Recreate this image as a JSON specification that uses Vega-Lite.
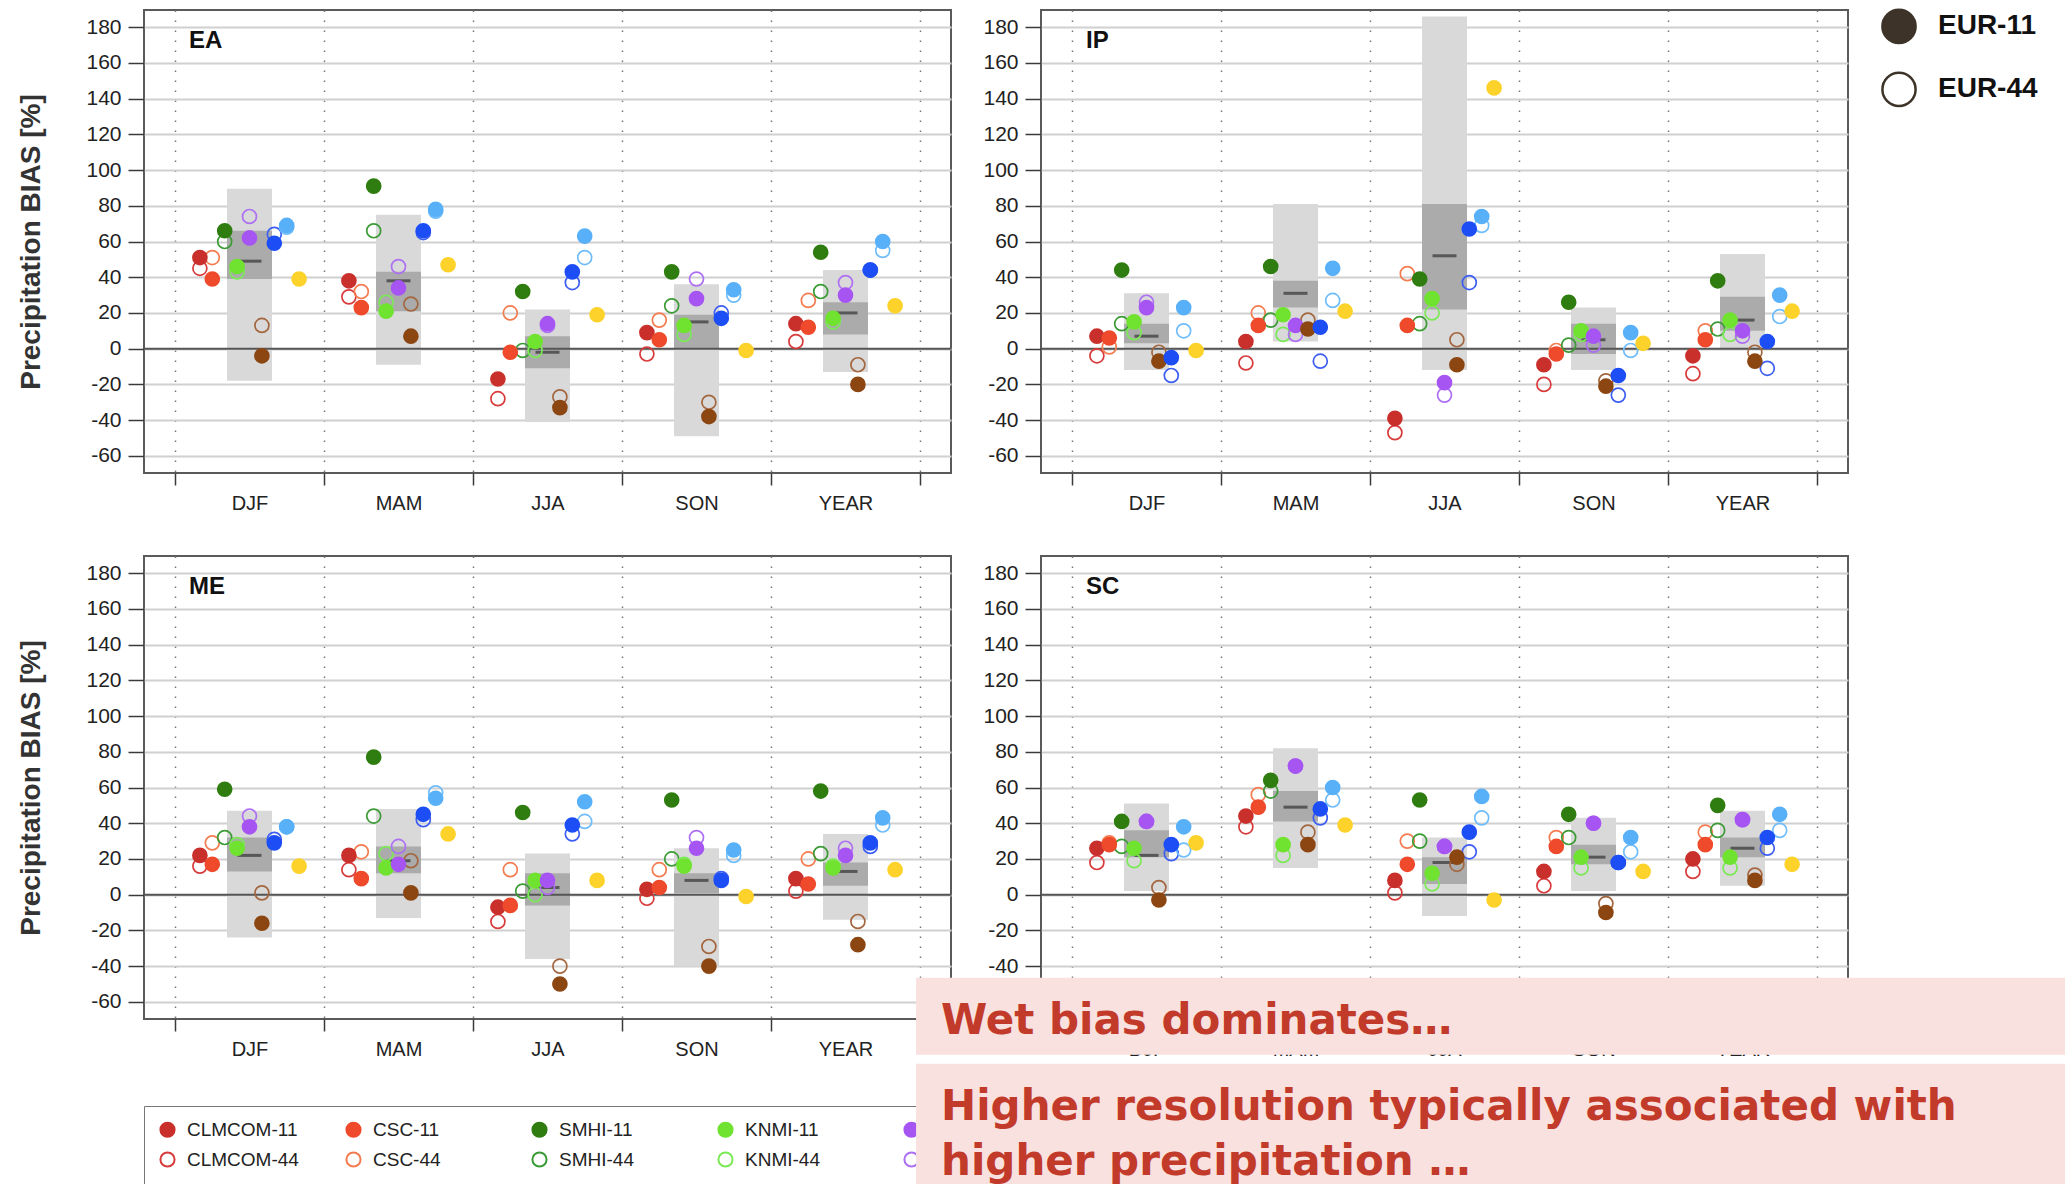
{
"$schema": "https://vega.github.io/schema/vega-lite/v6.json",
"padding": {"left": 16, "top": 7, "right": 0, "bottom": 0},
"bounds": "flush",
"columns": 2,
"spacing": {"row": 83, "column": 90},
"resolve": {"scale": {"fill": "independent", "stroke": "independent", "color": "independent"}, "legend": {"fill": "independent", "stroke": "independent", "color": "independent"}},
"datasets": {
"boxes": [
{"p":"EA","s":"DJF","lo":-18,"hi":89.5,"qlo":39,"qhi":66,"med":49},
{"p":"EA","s":"MAM","lo":-9,"hi":75,"qlo":21,"qhi":43,"med":38},
{"p":"EA","s":"JJA","lo":-41,"hi":22,"qlo":-11,"qhi":7,"med":-2},
{"p":"EA","s":"SON","lo":-49,"hi":36,"qlo":0,"qhi":19,"med":15},
{"p":"EA","s":"YEAR","lo":-13,"hi":44,"qlo":8,"qhi":26,"med":20},
{"p":"IP","s":"DJF","lo":-12,"hi":31,"qlo":3,"qhi":14,"med":7},
{"p":"IP","s":"MAM","lo":4,"hi":81,"qlo":23,"qhi":38,"med":31},
{"p":"IP","s":"JJA","lo":-12,"hi":186,"qlo":22,"qhi":81,"med":52},
{"p":"IP","s":"SON","lo":-12,"hi":23,"qlo":-3,"qhi":14,"med":5},
{"p":"IP","s":"YEAR","lo":0,"hi":53,"qlo":10,"qhi":29,"med":16},
{"p":"ME","s":"DJF","lo":-24,"hi":47,"qlo":13,"qhi":32,"med":22},
{"p":"ME","s":"MAM","lo":-13,"hi":48,"qlo":12,"qhi":27,"med":19},
{"p":"ME","s":"JJA","lo":-36,"hi":23,"qlo":-6,"qhi":12,"med":4},
{"p":"ME","s":"SON","lo":-40,"hi":26,"qlo":1,"qhi":12,"med":8},
{"p":"ME","s":"YEAR","lo":-14,"hi":34,"qlo":5,"qhi":18,"med":13},
{"p":"SC","s":"DJF","lo":2,"hi":51,"qlo":21,"qhi":36,"med":22},
{"p":"SC","s":"MAM","lo":15,"hi":82,"qlo":41,"qhi":58,"med":49},
{"p":"SC","s":"JJA","lo":-12,"hi":32,"qlo":6,"qhi":21,"med":18},
{"p":"SC","s":"SON","lo":2,"hi":43,"qlo":17,"qhi":28,"med":21},
{"p":"SC","s":"YEAR","lo":5,"hi":47,"qlo":21,"qhi":32,"med":26}
],
"pts": [
{"p":"EA","s":"DJF","m":"CLMCOM","k":"CLMCOM-44","v":45},
{"p":"EA","s":"DJF","m":"CSC","k":"CSC-44","v":51},
{"p":"EA","s":"DJF","m":"SMHI","k":"SMHI-44","v":60},
{"p":"EA","s":"DJF","m":"KNMI","k":"KNMI-44","v":43},
{"p":"EA","s":"DJF","m":"IPSL","k":"IPSL-44","v":74},
{"p":"EA","s":"DJF","m":"DMI","k":"DMI-44","v":13},
{"p":"EA","s":"DJF","m":"UHOH","k":"UHOH-44","v":64},
{"p":"EA","s":"DJF","m":"CNRM","k":"CNRM-44","v":68},
{"p":"EA","s":"MAM","m":"CLMCOM","k":"CLMCOM-44","v":29},
{"p":"EA","s":"MAM","m":"CSC","k":"CSC-44","v":32},
{"p":"EA","s":"MAM","m":"SMHI","k":"SMHI-44","v":66},
{"p":"EA","s":"MAM","m":"KNMI","k":"KNMI-44","v":26},
{"p":"EA","s":"MAM","m":"IPSL","k":"IPSL-44","v":46},
{"p":"EA","s":"MAM","m":"DMI","k":"DMI-44","v":25},
{"p":"EA","s":"MAM","m":"UHOH","k":"UHOH-44","v":65},
{"p":"EA","s":"MAM","m":"CNRM","k":"CNRM-44","v":77},
{"p":"EA","s":"JJA","m":"CLMCOM","k":"CLMCOM-44","v":-28},
{"p":"EA","s":"JJA","m":"CSC","k":"CSC-44","v":20},
{"p":"EA","s":"JJA","m":"SMHI","k":"SMHI-44","v":-1},
{"p":"EA","s":"JJA","m":"KNMI","k":"KNMI-44","v":-1},
{"p":"EA","s":"JJA","m":"IPSL","k":"IPSL-44","v":13},
{"p":"EA","s":"JJA","m":"DMI","k":"DMI-44","v":-27},
{"p":"EA","s":"JJA","m":"UHOH","k":"UHOH-44","v":37},
{"p":"EA","s":"JJA","m":"CNRM","k":"CNRM-44","v":51},
{"p":"EA","s":"SON","m":"CLMCOM","k":"CLMCOM-44","v":-3},
{"p":"EA","s":"SON","m":"CSC","k":"CSC-44","v":16},
{"p":"EA","s":"SON","m":"SMHI","k":"SMHI-44","v":24},
{"p":"EA","s":"SON","m":"KNMI","k":"KNMI-44","v":8},
{"p":"EA","s":"SON","m":"IPSL","k":"IPSL-44","v":39},
{"p":"EA","s":"SON","m":"DMI","k":"DMI-44","v":-30},
{"p":"EA","s":"SON","m":"UHOH","k":"UHOH-44","v":20},
{"p":"EA","s":"SON","m":"CNRM","k":"CNRM-44","v":30},
{"p":"EA","s":"YEAR","m":"CLMCOM","k":"CLMCOM-44","v":4},
{"p":"EA","s":"YEAR","m":"CSC","k":"CSC-44","v":27},
{"p":"EA","s":"YEAR","m":"SMHI","k":"SMHI-44","v":32},
{"p":"EA","s":"YEAR","m":"KNMI","k":"KNMI-44","v":15},
{"p":"EA","s":"YEAR","m":"IPSL","k":"IPSL-44","v":37},
{"p":"EA","s":"YEAR","m":"DMI","k":"DMI-44","v":-9},
{"p":"EA","s":"YEAR","m":"UHOH","k":"UHOH-44","v":44},
{"p":"EA","s":"YEAR","m":"CNRM","k":"CNRM-44","v":55},
{"p":"IP","s":"DJF","m":"CLMCOM","k":"CLMCOM-44","v":-4},
{"p":"IP","s":"DJF","m":"CSC","k":"CSC-44","v":1},
{"p":"IP","s":"DJF","m":"SMHI","k":"SMHI-44","v":14},
{"p":"IP","s":"DJF","m":"KNMI","k":"KNMI-44","v":9},
{"p":"IP","s":"DJF","m":"IPSL","k":"IPSL-44","v":26},
{"p":"IP","s":"DJF","m":"DMI","k":"DMI-44","v":-2},
{"p":"IP","s":"DJF","m":"UHOH","k":"UHOH-44","v":-15},
{"p":"IP","s":"DJF","m":"CNRM","k":"CNRM-44","v":10},
{"p":"IP","s":"MAM","m":"CLMCOM","k":"CLMCOM-44","v":-8},
{"p":"IP","s":"MAM","m":"CSC","k":"CSC-44","v":20},
{"p":"IP","s":"MAM","m":"SMHI","k":"SMHI-44","v":16},
{"p":"IP","s":"MAM","m":"KNMI","k":"KNMI-44","v":8},
{"p":"IP","s":"MAM","m":"IPSL","k":"IPSL-44","v":8},
{"p":"IP","s":"MAM","m":"DMI","k":"DMI-44","v":16},
{"p":"IP","s":"MAM","m":"UHOH","k":"UHOH-44","v":-7},
{"p":"IP","s":"MAM","m":"CNRM","k":"CNRM-44","v":27},
{"p":"IP","s":"JJA","m":"CLMCOM","k":"CLMCOM-44","v":-47},
{"p":"IP","s":"JJA","m":"CSC","k":"CSC-44","v":42},
{"p":"IP","s":"JJA","m":"SMHI","k":"SMHI-44","v":14},
{"p":"IP","s":"JJA","m":"KNMI","k":"KNMI-44","v":20},
{"p":"IP","s":"JJA","m":"IPSL","k":"IPSL-44","v":-26},
{"p":"IP","s":"JJA","m":"DMI","k":"DMI-44","v":5},
{"p":"IP","s":"JJA","m":"UHOH","k":"UHOH-44","v":37},
{"p":"IP","s":"JJA","m":"CNRM","k":"CNRM-44","v":69},
{"p":"IP","s":"SON","m":"CLMCOM","k":"CLMCOM-44","v":-20},
{"p":"IP","s":"SON","m":"CSC","k":"CSC-44","v":-1},
{"p":"IP","s":"SON","m":"SMHI","k":"SMHI-44","v":2},
{"p":"IP","s":"SON","m":"KNMI","k":"KNMI-44","v":8},
{"p":"IP","s":"SON","m":"IPSL","k":"IPSL-44","v":2},
{"p":"IP","s":"SON","m":"DMI","k":"DMI-44","v":-18},
{"p":"IP","s":"SON","m":"UHOH","k":"UHOH-44","v":-26},
{"p":"IP","s":"SON","m":"CNRM","k":"CNRM-44","v":-1},
{"p":"IP","s":"YEAR","m":"CLMCOM","k":"CLMCOM-44","v":-14},
{"p":"IP","s":"YEAR","m":"CSC","k":"CSC-44","v":10},
{"p":"IP","s":"YEAR","m":"SMHI","k":"SMHI-44","v":11},
{"p":"IP","s":"YEAR","m":"KNMI","k":"KNMI-44","v":8},
{"p":"IP","s":"YEAR","m":"IPSL","k":"IPSL-44","v":7},
{"p":"IP","s":"YEAR","m":"DMI","k":"DMI-44","v":-2},
{"p":"IP","s":"YEAR","m":"UHOH","k":"UHOH-44","v":-11},
{"p":"IP","s":"YEAR","m":"CNRM","k":"CNRM-44","v":18},
{"p":"ME","s":"DJF","m":"CLMCOM","k":"CLMCOM-44","v":16},
{"p":"ME","s":"DJF","m":"CSC","k":"CSC-44","v":29},
{"p":"ME","s":"DJF","m":"SMHI","k":"SMHI-44","v":32},
{"p":"ME","s":"DJF","m":"KNMI","k":"KNMI-44","v":28},
{"p":"ME","s":"DJF","m":"IPSL","k":"IPSL-44","v":44},
{"p":"ME","s":"DJF","m":"DMI","k":"DMI-44","v":1},
{"p":"ME","s":"DJF","m":"UHOH","k":"UHOH-44","v":31},
{"p":"ME","s":"DJF","m":"CNRM","k":"CNRM-44","v":38},
{"p":"ME","s":"MAM","m":"CLMCOM","k":"CLMCOM-44","v":14},
{"p":"ME","s":"MAM","m":"CSC","k":"CSC-44","v":24},
{"p":"ME","s":"MAM","m":"SMHI","k":"SMHI-44","v":44},
{"p":"ME","s":"MAM","m":"KNMI","k":"KNMI-44","v":23},
{"p":"ME","s":"MAM","m":"IPSL","k":"IPSL-44","v":27},
{"p":"ME","s":"MAM","m":"DMI","k":"DMI-44","v":19},
{"p":"ME","s":"MAM","m":"UHOH","k":"UHOH-44","v":42},
{"p":"ME","s":"MAM","m":"CNRM","k":"CNRM-44","v":57},
{"p":"ME","s":"JJA","m":"CLMCOM","k":"CLMCOM-44","v":-15},
{"p":"ME","s":"JJA","m":"CSC","k":"CSC-44","v":14},
{"p":"ME","s":"JJA","m":"SMHI","k":"SMHI-44","v":2},
{"p":"ME","s":"JJA","m":"KNMI","k":"KNMI-44","v":0},
{"p":"ME","s":"JJA","m":"IPSL","k":"IPSL-44","v":4},
{"p":"ME","s":"JJA","m":"DMI","k":"DMI-44","v":-40},
{"p":"ME","s":"JJA","m":"UHOH","k":"UHOH-44","v":34},
{"p":"ME","s":"JJA","m":"CNRM","k":"CNRM-44","v":41},
{"p":"ME","s":"SON","m":"CLMCOM","k":"CLMCOM-44","v":-2},
{"p":"ME","s":"SON","m":"CSC","k":"CSC-44","v":14},
{"p":"ME","s":"SON","m":"SMHI","k":"SMHI-44","v":20},
{"p":"ME","s":"SON","m":"KNMI","k":"KNMI-44","v":17},
{"p":"ME","s":"SON","m":"IPSL","k":"IPSL-44","v":32},
{"p":"ME","s":"SON","m":"DMI","k":"DMI-44","v":-29},
{"p":"ME","s":"SON","m":"UHOH","k":"UHOH-44","v":9},
{"p":"ME","s":"SON","m":"CNRM","k":"CNRM-44","v":22},
{"p":"ME","s":"YEAR","m":"CLMCOM","k":"CLMCOM-44","v":2},
{"p":"ME","s":"YEAR","m":"CSC","k":"CSC-44","v":20},
{"p":"ME","s":"YEAR","m":"SMHI","k":"SMHI-44","v":23},
{"p":"ME","s":"YEAR","m":"KNMI","k":"KNMI-44","v":16},
{"p":"ME","s":"YEAR","m":"IPSL","k":"IPSL-44","v":26},
{"p":"ME","s":"YEAR","m":"DMI","k":"DMI-44","v":-15},
{"p":"ME","s":"YEAR","m":"UHOH","k":"UHOH-44","v":27},
{"p":"ME","s":"YEAR","m":"CNRM","k":"CNRM-44","v":39},
{"p":"SC","s":"DJF","m":"CLMCOM","k":"CLMCOM-44","v":18},
{"p":"SC","s":"DJF","m":"CSC","k":"CSC-44","v":29},
{"p":"SC","s":"DJF","m":"SMHI","k":"SMHI-44","v":27},
{"p":"SC","s":"DJF","m":"KNMI","k":"KNMI-44","v":19},
{"p":"SC","s":"DJF","m":"IPSL","k":"IPSL-44","v":41},
{"p":"SC","s":"DJF","m":"DMI","k":"DMI-44","v":4},
{"p":"SC","s":"DJF","m":"UHOH","k":"UHOH-44","v":23},
{"p":"SC","s":"DJF","m":"CNRM","k":"CNRM-44","v":25},
{"p":"SC","s":"MAM","m":"CLMCOM","k":"CLMCOM-44","v":38},
{"p":"SC","s":"MAM","m":"CSC","k":"CSC-44","v":56},
{"p":"SC","s":"MAM","m":"SMHI","k":"SMHI-44","v":58},
{"p":"SC","s":"MAM","m":"KNMI","k":"KNMI-44","v":22},
{"p":"SC","s":"MAM","m":"IPSL","k":"IPSL-44","v":72},
{"p":"SC","s":"MAM","m":"DMI","k":"DMI-44","v":35},
{"p":"SC","s":"MAM","m":"UHOH","k":"UHOH-44","v":43},
{"p":"SC","s":"MAM","m":"CNRM","k":"CNRM-44","v":53},
{"p":"SC","s":"JJA","m":"CLMCOM","k":"CLMCOM-44","v":1},
{"p":"SC","s":"JJA","m":"CSC","k":"CSC-44","v":30},
{"p":"SC","s":"JJA","m":"SMHI","k":"SMHI-44","v":30},
{"p":"SC","s":"JJA","m":"KNMI","k":"KNMI-44","v":6},
{"p":"SC","s":"JJA","m":"IPSL","k":"IPSL-44","v":27},
{"p":"SC","s":"JJA","m":"DMI","k":"DMI-44","v":17},
{"p":"SC","s":"JJA","m":"UHOH","k":"UHOH-44","v":24},
{"p":"SC","s":"JJA","m":"CNRM","k":"CNRM-44","v":43},
{"p":"SC","s":"SON","m":"CLMCOM","k":"CLMCOM-44","v":5},
{"p":"SC","s":"SON","m":"CSC","k":"CSC-44","v":32},
{"p":"SC","s":"SON","m":"SMHI","k":"SMHI-44","v":32},
{"p":"SC","s":"SON","m":"KNMI","k":"KNMI-44","v":15},
{"p":"SC","s":"SON","m":"IPSL","k":"IPSL-44","v":40},
{"p":"SC","s":"SON","m":"DMI","k":"DMI-44","v":-5},
{"p":"SC","s":"SON","m":"UHOH","k":"UHOH-44","v":18},
{"p":"SC","s":"SON","m":"CNRM","k":"CNRM-44","v":24},
{"p":"SC","s":"YEAR","m":"CLMCOM","k":"CLMCOM-44","v":13},
{"p":"SC","s":"YEAR","m":"CSC","k":"CSC-44","v":35},
{"p":"SC","s":"YEAR","m":"SMHI","k":"SMHI-44","v":36},
{"p":"SC","s":"YEAR","m":"KNMI","k":"KNMI-44","v":15},
{"p":"SC","s":"YEAR","m":"IPSL","k":"IPSL-44","v":42},
{"p":"SC","s":"YEAR","m":"DMI","k":"DMI-44","v":11},
{"p":"SC","s":"YEAR","m":"UHOH","k":"UHOH-44","v":26},
{"p":"SC","s":"YEAR","m":"CNRM","k":"CNRM-44","v":36},
{"p":"EA","s":"DJF","m":"CLMCOM","k":"CLMCOM-11","v":51},
{"p":"EA","s":"DJF","m":"CSC","k":"CSC-11","v":39},
{"p":"EA","s":"DJF","m":"SMHI","k":"SMHI-11","v":66},
{"p":"EA","s":"DJF","m":"KNMI","k":"KNMI-11","v":46},
{"p":"EA","s":"DJF","m":"IPSL","k":"IPSL-11","v":62},
{"p":"EA","s":"DJF","m":"DMI","k":"DMI-11","v":-4},
{"p":"EA","s":"DJF","m":"UHOH","k":"UHOH-11","v":59},
{"p":"EA","s":"DJF","m":"CNRM","k":"CNRM-11","v":69},
{"p":"EA","s":"DJF","m":"ETH","k":"ETH-11","v":39},
{"p":"EA","s":"MAM","m":"CLMCOM","k":"CLMCOM-11","v":38},
{"p":"EA","s":"MAM","m":"CSC","k":"CSC-11","v":23},
{"p":"EA","s":"MAM","m":"SMHI","k":"SMHI-11","v":91},
{"p":"EA","s":"MAM","m":"KNMI","k":"KNMI-11","v":21},
{"p":"EA","s":"MAM","m":"IPSL","k":"IPSL-11","v":34},
{"p":"EA","s":"MAM","m":"DMI","k":"DMI-11","v":7},
{"p":"EA","s":"MAM","m":"UHOH","k":"UHOH-11","v":66},
{"p":"EA","s":"MAM","m":"CNRM","k":"CNRM-11","v":78},
{"p":"EA","s":"MAM","m":"ETH","k":"ETH-11","v":47},
{"p":"EA","s":"JJA","m":"CLMCOM","k":"CLMCOM-11","v":-17},
{"p":"EA","s":"JJA","m":"CSC","k":"CSC-11","v":-2},
{"p":"EA","s":"JJA","m":"SMHI","k":"SMHI-11","v":32},
{"p":"EA","s":"JJA","m":"KNMI","k":"KNMI-11","v":4},
{"p":"EA","s":"JJA","m":"IPSL","k":"IPSL-11","v":14},
{"p":"EA","s":"JJA","m":"DMI","k":"DMI-11","v":-33},
{"p":"EA","s":"JJA","m":"UHOH","k":"UHOH-11","v":43},
{"p":"EA","s":"JJA","m":"CNRM","k":"CNRM-11","v":63},
{"p":"EA","s":"JJA","m":"ETH","k":"ETH-11","v":19},
{"p":"EA","s":"SON","m":"CLMCOM","k":"CLMCOM-11","v":9},
{"p":"EA","s":"SON","m":"CSC","k":"CSC-11","v":5},
{"p":"EA","s":"SON","m":"SMHI","k":"SMHI-11","v":43},
{"p":"EA","s":"SON","m":"KNMI","k":"KNMI-11","v":13},
{"p":"EA","s":"SON","m":"IPSL","k":"IPSL-11","v":28},
{"p":"EA","s":"SON","m":"DMI","k":"DMI-11","v":-38},
{"p":"EA","s":"SON","m":"UHOH","k":"UHOH-11","v":17},
{"p":"EA","s":"SON","m":"CNRM","k":"CNRM-11","v":33},
{"p":"EA","s":"SON","m":"ETH","k":"ETH-11","v":-1},
{"p":"EA","s":"YEAR","m":"CLMCOM","k":"CLMCOM-11","v":14},
{"p":"EA","s":"YEAR","m":"CSC","k":"CSC-11","v":12},
{"p":"EA","s":"YEAR","m":"SMHI","k":"SMHI-11","v":54},
{"p":"EA","s":"YEAR","m":"KNMI","k":"KNMI-11","v":17},
{"p":"EA","s":"YEAR","m":"IPSL","k":"IPSL-11","v":30},
{"p":"EA","s":"YEAR","m":"DMI","k":"DMI-11","v":-20},
{"p":"EA","s":"YEAR","m":"UHOH","k":"UHOH-11","v":44},
{"p":"EA","s":"YEAR","m":"CNRM","k":"CNRM-11","v":60},
{"p":"EA","s":"YEAR","m":"ETH","k":"ETH-11","v":24},
{"p":"IP","s":"DJF","m":"CLMCOM","k":"CLMCOM-11","v":7},
{"p":"IP","s":"DJF","m":"CSC","k":"CSC-11","v":6},
{"p":"IP","s":"DJF","m":"SMHI","k":"SMHI-11","v":44},
{"p":"IP","s":"DJF","m":"KNMI","k":"KNMI-11","v":15},
{"p":"IP","s":"DJF","m":"IPSL","k":"IPSL-11","v":23},
{"p":"IP","s":"DJF","m":"DMI","k":"DMI-11","v":-7},
{"p":"IP","s":"DJF","m":"UHOH","k":"UHOH-11","v":-5},
{"p":"IP","s":"DJF","m":"CNRM","k":"CNRM-11","v":23},
{"p":"IP","s":"DJF","m":"ETH","k":"ETH-11","v":-1},
{"p":"IP","s":"MAM","m":"CLMCOM","k":"CLMCOM-11","v":4},
{"p":"IP","s":"MAM","m":"CSC","k":"CSC-11","v":13},
{"p":"IP","s":"MAM","m":"SMHI","k":"SMHI-11","v":46},
{"p":"IP","s":"MAM","m":"KNMI","k":"KNMI-11","v":19},
{"p":"IP","s":"MAM","m":"IPSL","k":"IPSL-11","v":13},
{"p":"IP","s":"MAM","m":"DMI","k":"DMI-11","v":11},
{"p":"IP","s":"MAM","m":"UHOH","k":"UHOH-11","v":12},
{"p":"IP","s":"MAM","m":"CNRM","k":"CNRM-11","v":45},
{"p":"IP","s":"MAM","m":"ETH","k":"ETH-11","v":21},
{"p":"IP","s":"JJA","m":"CLMCOM","k":"CLMCOM-11","v":-39},
{"p":"IP","s":"JJA","m":"CSC","k":"CSC-11","v":13},
{"p":"IP","s":"JJA","m":"SMHI","k":"SMHI-11","v":39},
{"p":"IP","s":"JJA","m":"KNMI","k":"KNMI-11","v":28},
{"p":"IP","s":"JJA","m":"IPSL","k":"IPSL-11","v":-19},
{"p":"IP","s":"JJA","m":"DMI","k":"DMI-11","v":-9},
{"p":"IP","s":"JJA","m":"UHOH","k":"UHOH-11","v":67},
{"p":"IP","s":"JJA","m":"CNRM","k":"CNRM-11","v":74},
{"p":"IP","s":"JJA","m":"ETH","k":"ETH-11","v":146},
{"p":"IP","s":"SON","m":"CLMCOM","k":"CLMCOM-11","v":-9},
{"p":"IP","s":"SON","m":"CSC","k":"CSC-11","v":-3},
{"p":"IP","s":"SON","m":"SMHI","k":"SMHI-11","v":26},
{"p":"IP","s":"SON","m":"KNMI","k":"KNMI-11","v":10},
{"p":"IP","s":"SON","m":"IPSL","k":"IPSL-11","v":7},
{"p":"IP","s":"SON","m":"DMI","k":"DMI-11","v":-21},
{"p":"IP","s":"SON","m":"UHOH","k":"UHOH-11","v":-15},
{"p":"IP","s":"SON","m":"CNRM","k":"CNRM-11","v":9},
{"p":"IP","s":"SON","m":"ETH","k":"ETH-11","v":3},
{"p":"IP","s":"YEAR","m":"CLMCOM","k":"CLMCOM-11","v":-4},
{"p":"IP","s":"YEAR","m":"CSC","k":"CSC-11","v":5},
{"p":"IP","s":"YEAR","m":"SMHI","k":"SMHI-11","v":38},
{"p":"IP","s":"YEAR","m":"KNMI","k":"KNMI-11","v":16},
{"p":"IP","s":"YEAR","m":"IPSL","k":"IPSL-11","v":10},
{"p":"IP","s":"YEAR","m":"DMI","k":"DMI-11","v":-7},
{"p":"IP","s":"YEAR","m":"UHOH","k":"UHOH-11","v":4},
{"p":"IP","s":"YEAR","m":"CNRM","k":"CNRM-11","v":30},
{"p":"IP","s":"YEAR","m":"ETH","k":"ETH-11","v":21},
{"p":"ME","s":"DJF","m":"CLMCOM","k":"CLMCOM-11","v":22},
{"p":"ME","s":"DJF","m":"CSC","k":"CSC-11","v":17},
{"p":"ME","s":"DJF","m":"SMHI","k":"SMHI-11","v":59},
{"p":"ME","s":"DJF","m":"KNMI","k":"KNMI-11","v":26},
{"p":"ME","s":"DJF","m":"IPSL","k":"IPSL-11","v":38},
{"p":"ME","s":"DJF","m":"DMI","k":"DMI-11","v":-16},
{"p":"ME","s":"DJF","m":"UHOH","k":"UHOH-11","v":29},
{"p":"ME","s":"DJF","m":"CNRM","k":"CNRM-11","v":38},
{"p":"ME","s":"DJF","m":"ETH","k":"ETH-11","v":16},
{"p":"ME","s":"MAM","m":"CLMCOM","k":"CLMCOM-11","v":22},
{"p":"ME","s":"MAM","m":"CSC","k":"CSC-11","v":9},
{"p":"ME","s":"MAM","m":"SMHI","k":"SMHI-11","v":77},
{"p":"ME","s":"MAM","m":"KNMI","k":"KNMI-11","v":15},
{"p":"ME","s":"MAM","m":"IPSL","k":"IPSL-11","v":17},
{"p":"ME","s":"MAM","m":"DMI","k":"DMI-11","v":1},
{"p":"ME","s":"MAM","m":"UHOH","k":"UHOH-11","v":45},
{"p":"ME","s":"MAM","m":"CNRM","k":"CNRM-11","v":54},
{"p":"ME","s":"MAM","m":"ETH","k":"ETH-11","v":34},
{"p":"ME","s":"JJA","m":"CLMCOM","k":"CLMCOM-11","v":-7},
{"p":"ME","s":"JJA","m":"CSC","k":"CSC-11","v":-6},
{"p":"ME","s":"JJA","m":"SMHI","k":"SMHI-11","v":46},
{"p":"ME","s":"JJA","m":"KNMI","k":"KNMI-11","v":8},
{"p":"ME","s":"JJA","m":"IPSL","k":"IPSL-11","v":8},
{"p":"ME","s":"JJA","m":"DMI","k":"DMI-11","v":-50},
{"p":"ME","s":"JJA","m":"UHOH","k":"UHOH-11","v":39},
{"p":"ME","s":"JJA","m":"CNRM","k":"CNRM-11","v":52},
{"p":"ME","s":"JJA","m":"ETH","k":"ETH-11","v":8},
{"p":"ME","s":"SON","m":"CLMCOM","k":"CLMCOM-11","v":3},
{"p":"ME","s":"SON","m":"CSC","k":"CSC-11","v":4},
{"p":"ME","s":"SON","m":"SMHI","k":"SMHI-11","v":53},
{"p":"ME","s":"SON","m":"KNMI","k":"KNMI-11","v":16},
{"p":"ME","s":"SON","m":"IPSL","k":"IPSL-11","v":26},
{"p":"ME","s":"SON","m":"DMI","k":"DMI-11","v":-40},
{"p":"ME","s":"SON","m":"UHOH","k":"UHOH-11","v":8},
{"p":"ME","s":"SON","m":"CNRM","k":"CNRM-11","v":25},
{"p":"ME","s":"SON","m":"ETH","k":"ETH-11","v":-1},
{"p":"ME","s":"YEAR","m":"CLMCOM","k":"CLMCOM-11","v":9},
{"p":"ME","s":"YEAR","m":"CSC","k":"CSC-11","v":6},
{"p":"ME","s":"YEAR","m":"SMHI","k":"SMHI-11","v":58},
{"p":"ME","s":"YEAR","m":"KNMI","k":"KNMI-11","v":15},
{"p":"ME","s":"YEAR","m":"IPSL","k":"IPSL-11","v":22},
{"p":"ME","s":"YEAR","m":"DMI","k":"DMI-11","v":-28},
{"p":"ME","s":"YEAR","m":"UHOH","k":"UHOH-11","v":29},
{"p":"ME","s":"YEAR","m":"CNRM","k":"CNRM-11","v":43},
{"p":"ME","s":"YEAR","m":"ETH","k":"ETH-11","v":14},
{"p":"SC","s":"DJF","m":"CLMCOM","k":"CLMCOM-11","v":26},
{"p":"SC","s":"DJF","m":"CSC","k":"CSC-11","v":28},
{"p":"SC","s":"DJF","m":"SMHI","k":"SMHI-11","v":41},
{"p":"SC","s":"DJF","m":"KNMI","k":"KNMI-11","v":26},
{"p":"SC","s":"DJF","m":"IPSL","k":"IPSL-11","v":41},
{"p":"SC","s":"DJF","m":"DMI","k":"DMI-11","v":-3},
{"p":"SC","s":"DJF","m":"UHOH","k":"UHOH-11","v":28},
{"p":"SC","s":"DJF","m":"CNRM","k":"CNRM-11","v":38},
{"p":"SC","s":"DJF","m":"ETH","k":"ETH-11","v":29},
{"p":"SC","s":"MAM","m":"CLMCOM","k":"CLMCOM-11","v":44},
{"p":"SC","s":"MAM","m":"CSC","k":"CSC-11","v":49},
{"p":"SC","s":"MAM","m":"SMHI","k":"SMHI-11","v":64},
{"p":"SC","s":"MAM","m":"KNMI","k":"KNMI-11","v":28},
{"p":"SC","s":"MAM","m":"IPSL","k":"IPSL-11","v":72},
{"p":"SC","s":"MAM","m":"DMI","k":"DMI-11","v":28},
{"p":"SC","s":"MAM","m":"UHOH","k":"UHOH-11","v":48},
{"p":"SC","s":"MAM","m":"CNRM","k":"CNRM-11","v":60},
{"p":"SC","s":"MAM","m":"ETH","k":"ETH-11","v":39},
{"p":"SC","s":"JJA","m":"CLMCOM","k":"CLMCOM-11","v":8},
{"p":"SC","s":"JJA","m":"CSC","k":"CSC-11","v":17},
{"p":"SC","s":"JJA","m":"SMHI","k":"SMHI-11","v":53},
{"p":"SC","s":"JJA","m":"KNMI","k":"KNMI-11","v":12},
{"p":"SC","s":"JJA","m":"IPSL","k":"IPSL-11","v":27},
{"p":"SC","s":"JJA","m":"DMI","k":"DMI-11","v":21},
{"p":"SC","s":"JJA","m":"UHOH","k":"UHOH-11","v":35},
{"p":"SC","s":"JJA","m":"CNRM","k":"CNRM-11","v":55},
{"p":"SC","s":"JJA","m":"ETH","k":"ETH-11","v":-3},
{"p":"SC","s":"SON","m":"CLMCOM","k":"CLMCOM-11","v":13},
{"p":"SC","s":"SON","m":"CSC","k":"CSC-11","v":27},
{"p":"SC","s":"SON","m":"SMHI","k":"SMHI-11","v":45},
{"p":"SC","s":"SON","m":"KNMI","k":"KNMI-11","v":21},
{"p":"SC","s":"SON","m":"IPSL","k":"IPSL-11","v":40},
{"p":"SC","s":"SON","m":"DMI","k":"DMI-11","v":-10},
{"p":"SC","s":"SON","m":"UHOH","k":"UHOH-11","v":18},
{"p":"SC","s":"SON","m":"CNRM","k":"CNRM-11","v":32},
{"p":"SC","s":"SON","m":"ETH","k":"ETH-11","v":13},
{"p":"SC","s":"YEAR","m":"CLMCOM","k":"CLMCOM-11","v":20},
{"p":"SC","s":"YEAR","m":"CSC","k":"CSC-11","v":28},
{"p":"SC","s":"YEAR","m":"SMHI","k":"SMHI-11","v":50},
{"p":"SC","s":"YEAR","m":"KNMI","k":"KNMI-11","v":21},
{"p":"SC","s":"YEAR","m":"IPSL","k":"IPSL-11","v":42},
{"p":"SC","s":"YEAR","m":"DMI","k":"DMI-11","v":8},
{"p":"SC","s":"YEAR","m":"UHOH","k":"UHOH-11","v":32},
{"p":"SC","s":"YEAR","m":"CNRM","k":"CNRM-11","v":45},
{"p":"SC","s":"YEAR","m":"ETH","k":"ETH-11","v":17}
]
},
"concat": [
{
"width": 807, "height": 463,
"layer": [
{"data": {"name": "boxes"}, "transform": [{"filter": "datum.p == 'EA'"}], "mark": {"type": "bar", "color": "#d9d9d9", "width": 45},
 "encoding": {"x": {"field": "s", "type": "nominal", "title": null, "scale": {"domain": ["DJF","MAM","JJA","SON","YEAR"], "paddingInner": 0, "paddingOuter": 0.208}, "axis": {"tickBand": "extent", "labelAngle": 0, "grid": true}},
  "y": {"field": "lo", "type": "quantitative", "scale": {"domain": [-69.6, 189.6], "nice": false, "zero": false}, "axis": {"title": "Precipitation BIAS [%]", "values": [-60,-40,-20,0,20,40,60,80,100,120,140,160,180], "tickCount": 30, "labelOverlap": false}}, "y2": {"field": "hi"}}},
{"data": {"name": "boxes"}, "transform": [{"filter": "datum.p == 'EA'"}], "mark": {"type": "bar", "color": "#ababab", "width": 45},
 "encoding": {"x": {"field": "s", "type": "nominal"}, "y": {"field": "qlo", "type": "quantitative"}, "y2": {"field": "qhi"}}},
{"data": {"name": "boxes"}, "transform": [{"filter": "datum.p == 'EA'"}], "mark": {"type": "tick", "orient": "horizontal", "color": "#333333", "thickness": 3, "size": 24},
 "encoding": {"x": {"field": "s", "type": "nominal"}, "y": {"field": "med", "type": "quantitative"}}},
{"data": {"values": [{}]}, "mark": {"type": "rule", "color": "#555555", "strokeWidth": 2}, "encoding": {"y": {"datum": 0, "type": "quantitative"}}},
{"data": {"name": "pts"}, "transform": [{"filter": "datum.p == 'EA'"}], "mark": {"type": "point", "shape": "circle", "filled": true, "size": 195, "strokeWidth": 1.7, "opacity": 1},
 "encoding": {"x": {"field": "s", "type": "nominal"},
  "xOffset": {"field": "m", "type": "nominal", "scale": {"domain": ["_l","CLMCOM","CSC","SMHI","KNMI","IPSL","DMI","UHOH","CNRM","ETH","_r"], "range": [6.3, 142.7]}},
  "y": {"field": "v", "type": "quantitative"},
  "fill": {"field": "k", "type": "nominal", "legend": null, "scale": {"domain": ["CLMCOM-11","CSC-11","SMHI-11","KNMI-11","IPSL-11","DMI-11","UHOH-11","CNRM-11","ETH-11","CLMCOM-44","CSC-44","SMHI-44","KNMI-44","IPSL-44","DMI-44","UHOH-44","CNRM-44"], "range": ["#c9302c","#ee4a2b","#2f7d10","#6fe32f","#a655f2","#8c4612","#1d4ef5","#58b0f8","#fcd22b","transparent","transparent","transparent","transparent","transparent","transparent","transparent","transparent"]}},
  "stroke": {"field": "k", "type": "nominal", "legend": null, "scale": {"domain": ["CLMCOM-11","CSC-11","SMHI-11","KNMI-11","IPSL-11","DMI-11","UHOH-11","CNRM-11","ETH-11","CLMCOM-44","CSC-44","SMHI-44","KNMI-44","IPSL-44","DMI-44","UHOH-44","CNRM-44"], "range": ["#c9302c","#ee4a2b","#2f7d10","#6fe32f","#a655f2","#8c4612","#1d4ef5","#58b0f8","#fcd22b","#d83b3b","#f47c50","#3b9b35","#7ce956","#ae70f3","#a3663e","#3c5ef2","#70bdfb"]}}}},
{"data": {"values": [{}]}, "mark": {"type": "text", "text": "EA", "align": "left", "baseline": "alphabetic", "dx": -60.5, "fontSize": 24, "fontWeight": "bold", "color": "#111111"},
 "encoding": {"x": {"datum": "DJF", "type": "nominal"}, "y": {"datum": 168.6, "type": "quantitative"}}}
]
},
{
"width": 807, "height": 463,
"layer": [
{"data": {"name": "boxes"}, "transform": [{"filter": "datum.p == 'IP'"}], "mark": {"type": "bar", "color": "#d9d9d9", "width": 45},
 "encoding": {"x": {"field": "s", "type": "nominal", "title": null, "scale": {"domain": ["DJF","MAM","JJA","SON","YEAR"], "paddingInner": 0, "paddingOuter": 0.208}, "axis": {"tickBand": "extent", "labelAngle": 0, "grid": true}},
  "y": {"field": "lo", "type": "quantitative", "scale": {"domain": [-69.6, 189.6], "nice": false, "zero": false}, "axis": {"title": null, "values": [-60,-40,-20,0,20,40,60,80,100,120,140,160,180], "tickCount": 30, "labelOverlap": false}}, "y2": {"field": "hi"}}},
{"data": {"name": "boxes"}, "transform": [{"filter": "datum.p == 'IP'"}], "mark": {"type": "bar", "color": "#ababab", "width": 45},
 "encoding": {"x": {"field": "s", "type": "nominal"}, "y": {"field": "qlo", "type": "quantitative"}, "y2": {"field": "qhi"}}},
{"data": {"name": "boxes"}, "transform": [{"filter": "datum.p == 'IP'"}], "mark": {"type": "tick", "orient": "horizontal", "color": "#333333", "thickness": 3, "size": 24},
 "encoding": {"x": {"field": "s", "type": "nominal"}, "y": {"field": "med", "type": "quantitative"}}},
{"data": {"values": [{}]}, "mark": {"type": "rule", "color": "#555555", "strokeWidth": 2}, "encoding": {"y": {"datum": 0, "type": "quantitative"}}},
{"data": {"name": "pts"}, "transform": [{"filter": "datum.p == 'IP'"}], "mark": {"type": "point", "shape": "circle", "filled": true, "size": 195, "strokeWidth": 1.7, "opacity": 1},
 "encoding": {"x": {"field": "s", "type": "nominal"},
  "xOffset": {"field": "m", "type": "nominal", "scale": {"domain": ["_l","CLMCOM","CSC","SMHI","KNMI","IPSL","DMI","UHOH","CNRM","ETH","_r"], "range": [6.3, 142.7]}},
  "y": {"field": "v", "type": "quantitative"},
  "fill": {"field": "k", "type": "nominal", "legend": null, "scale": {"domain": ["CLMCOM-11","CSC-11","SMHI-11","KNMI-11","IPSL-11","DMI-11","UHOH-11","CNRM-11","ETH-11","CLMCOM-44","CSC-44","SMHI-44","KNMI-44","IPSL-44","DMI-44","UHOH-44","CNRM-44"], "range": ["#c9302c","#ee4a2b","#2f7d10","#6fe32f","#a655f2","#8c4612","#1d4ef5","#58b0f8","#fcd22b","transparent","transparent","transparent","transparent","transparent","transparent","transparent","transparent"]}},
  "stroke": {"field": "k", "type": "nominal", "legend": null, "scale": {"domain": ["CLMCOM-11","CSC-11","SMHI-11","KNMI-11","IPSL-11","DMI-11","UHOH-11","CNRM-11","ETH-11","CLMCOM-44","CSC-44","SMHI-44","KNMI-44","IPSL-44","DMI-44","UHOH-44","CNRM-44"], "range": ["#c9302c","#ee4a2b","#2f7d10","#6fe32f","#a655f2","#8c4612","#1d4ef5","#58b0f8","#fcd22b","#d83b3b","#f47c50","#3b9b35","#7ce956","#ae70f3","#a3663e","#3c5ef2","#70bdfb"]}}}},
{"data": {"values": [{}]}, "mark": {"type": "text", "text": "IP", "align": "left", "baseline": "alphabetic", "dx": -60.5, "fontSize": 24, "fontWeight": "bold", "color": "#111111"},
 "encoding": {"x": {"datum": "DJF", "type": "nominal"}, "y": {"datum": 168.6, "type": "quantitative"}}},
{"data": {"values": [{"r": "EUR-11"}, {"r": "EUR-44"}]}, "mark": {"type": "point", "shape": "circle", "filled": true, "opacity": 0},
 "encoding": {"color": {"field": "r", "type": "nominal", "scale": {"domain": ["EUR-11", "EUR-44"], "range": ["#3d3329", "#ffffff"]},
  "legend": {"orient": "none", "legendX": 840, "legendY": -1.6, "direction": "vertical", "title": null, "symbolType": "circle", "symbolSize": 1100, "symbolOpacity": 1, "symbolStrokeColor": "#3d3329", "symbolStrokeWidth": 2.5, "labelFontSize": 28, "labelFontWeight": "bold", "labelColor": "#111111", "labelOffset": 21, "rowPadding": 19, "padding": 0}}}}
]
},
{
"width": 807, "height": 463,
"layer": [
{"data": {"name": "boxes"}, "transform": [{"filter": "datum.p == 'ME'"}], "mark": {"type": "bar", "color": "#d9d9d9", "width": 45},
 "encoding": {"x": {"field": "s", "type": "nominal", "title": null, "scale": {"domain": ["DJF","MAM","JJA","SON","YEAR"], "paddingInner": 0, "paddingOuter": 0.208}, "axis": {"tickBand": "extent", "labelAngle": 0, "grid": true}},
  "y": {"field": "lo", "type": "quantitative", "scale": {"domain": [-69.6, 189.6], "nice": false, "zero": false}, "axis": {"title": "Precipitation BIAS [%]", "values": [-60,-40,-20,0,20,40,60,80,100,120,140,160,180], "tickCount": 30, "labelOverlap": false}}, "y2": {"field": "hi"}}},
{"data": {"name": "boxes"}, "transform": [{"filter": "datum.p == 'ME'"}], "mark": {"type": "bar", "color": "#ababab", "width": 45},
 "encoding": {"x": {"field": "s", "type": "nominal"}, "y": {"field": "qlo", "type": "quantitative"}, "y2": {"field": "qhi"}}},
{"data": {"name": "boxes"}, "transform": [{"filter": "datum.p == 'ME'"}], "mark": {"type": "tick", "orient": "horizontal", "color": "#333333", "thickness": 3, "size": 24},
 "encoding": {"x": {"field": "s", "type": "nominal"}, "y": {"field": "med", "type": "quantitative"}}},
{"data": {"values": [{}]}, "mark": {"type": "rule", "color": "#555555", "strokeWidth": 2}, "encoding": {"y": {"datum": 0, "type": "quantitative"}}},
{"data": {"name": "pts"}, "transform": [{"filter": "datum.p == 'ME'"}], "mark": {"type": "point", "shape": "circle", "filled": true, "size": 195, "strokeWidth": 1.7, "opacity": 1},
 "encoding": {"x": {"field": "s", "type": "nominal"},
  "xOffset": {"field": "m", "type": "nominal", "scale": {"domain": ["_l","CLMCOM","CSC","SMHI","KNMI","IPSL","DMI","UHOH","CNRM","ETH","_r"], "range": [6.3, 142.7]}},
  "y": {"field": "v", "type": "quantitative"},
  "fill": {"field": "k", "type": "nominal", "scale": {"domain": ["CLMCOM-11","CSC-11","SMHI-11","KNMI-11","IPSL-11","DMI-11","UHOH-11","CNRM-11","ETH-11","CLMCOM-44","CSC-44","SMHI-44","KNMI-44","IPSL-44","DMI-44","UHOH-44","CNRM-44"], "range": ["#c9302c","#ee4a2b","#2f7d10","#6fe32f","#a655f2","#8c4612","#1d4ef5","#58b0f8","#fcd22b","transparent","transparent","transparent","transparent","transparent","transparent","transparent","transparent"]},
   "legend": {"orient": "none", "legendX": 0, "legendY": 550, "direction": "horizontal", "columns": 9, "gridAlign": "all", "title": null, "symbolType": "circle", "symbolSize": 200, "symbolStrokeWidth": 2, "labelFontSize": 19, "labelColor": "#222222", "labelOffset": 10, "columnPadding": 43, "rowPadding": 7, "padding": 14, "strokeColor": "#777777", "fillColor": "white", "labelLimit": 300}},
  "stroke": {"field": "k", "type": "nominal", "scale": {"domain": ["CLMCOM-11","CSC-11","SMHI-11","KNMI-11","IPSL-11","DMI-11","UHOH-11","CNRM-11","ETH-11","CLMCOM-44","CSC-44","SMHI-44","KNMI-44","IPSL-44","DMI-44","UHOH-44","CNRM-44"], "range": ["#c9302c","#ee4a2b","#2f7d10","#6fe32f","#a655f2","#8c4612","#1d4ef5","#58b0f8","#fcd22b","#d83b3b","#f47c50","#3b9b35","#7ce956","#ae70f3","#a3663e","#3c5ef2","#70bdfb"]},
   "legend": {"orient": "none", "legendX": 0, "legendY": 550, "direction": "horizontal", "columns": 9, "gridAlign": "all", "title": null, "symbolType": "circle", "symbolSize": 200, "symbolStrokeWidth": 2, "labelFontSize": 19, "labelColor": "#222222", "labelOffset": 10, "columnPadding": 43, "rowPadding": 7, "padding": 14, "strokeColor": "#777777", "fillColor": "white", "labelLimit": 300}}}},
{"data": {"values": [{}]}, "mark": {"type": "text", "text": "ME", "align": "left", "baseline": "alphabetic", "dx": -60.5, "fontSize": 24, "fontWeight": "bold", "color": "#111111"},
 "encoding": {"x": {"datum": "DJF", "type": "nominal"}, "y": {"datum": 168.6, "type": "quantitative"}}}
]
},
{
"width": 807, "height": 463,
"resolve": {"scale": {"x": "independent"}},
"layer": [
{"layer": [
{"data": {"name": "boxes"}, "transform": [{"filter": "datum.p == 'SC'"}], "mark": {"type": "bar", "color": "#d9d9d9", "width": 45},
 "encoding": {"x": {"field": "s", "type": "nominal", "title": null, "scale": {"domain": ["DJF","MAM","JJA","SON","YEAR"], "paddingInner": 0, "paddingOuter": 0.208}, "axis": {"tickBand": "extent", "labelAngle": 0, "grid": true}},
  "y": {"field": "lo", "type": "quantitative", "scale": {"domain": [-69.6, 189.6], "nice": false, "zero": false}, "axis": {"title": null, "values": [-60,-40,-20,0,20,40,60,80,100,120,140,160,180], "tickCount": 30, "labelOverlap": false}}, "y2": {"field": "hi"}}},
{"data": {"name": "boxes"}, "transform": [{"filter": "datum.p == 'SC'"}], "mark": {"type": "bar", "color": "#ababab", "width": 45},
 "encoding": {"x": {"field": "s", "type": "nominal"}, "y": {"field": "qlo", "type": "quantitative"}, "y2": {"field": "qhi"}}},
{"data": {"name": "boxes"}, "transform": [{"filter": "datum.p == 'SC'"}], "mark": {"type": "tick", "orient": "horizontal", "color": "#333333", "thickness": 3, "size": 24},
 "encoding": {"x": {"field": "s", "type": "nominal"}, "y": {"field": "med", "type": "quantitative"}}},
{"data": {"values": [{}]}, "mark": {"type": "rule", "color": "#555555", "strokeWidth": 2}, "encoding": {"y": {"datum": 0, "type": "quantitative"}}},
{"data": {"name": "pts"}, "transform": [{"filter": "datum.p == 'SC'"}], "mark": {"type": "point", "shape": "circle", "filled": true, "size": 195, "strokeWidth": 1.7, "opacity": 1},
 "encoding": {"x": {"field": "s", "type": "nominal"},
  "xOffset": {"field": "m", "type": "nominal", "scale": {"domain": ["_l","CLMCOM","CSC","SMHI","KNMI","IPSL","DMI","UHOH","CNRM","ETH","_r"], "range": [6.3, 142.7]}},
  "y": {"field": "v", "type": "quantitative"},
  "fill": {"field": "k", "type": "nominal", "legend": null, "scale": {"domain": ["CLMCOM-11","CSC-11","SMHI-11","KNMI-11","IPSL-11","DMI-11","UHOH-11","CNRM-11","ETH-11","CLMCOM-44","CSC-44","SMHI-44","KNMI-44","IPSL-44","DMI-44","UHOH-44","CNRM-44"], "range": ["#c9302c","#ee4a2b","#2f7d10","#6fe32f","#a655f2","#8c4612","#1d4ef5","#58b0f8","#fcd22b","transparent","transparent","transparent","transparent","transparent","transparent","transparent","transparent"]}},
  "stroke": {"field": "k", "type": "nominal", "legend": null, "scale": {"domain": ["CLMCOM-11","CSC-11","SMHI-11","KNMI-11","IPSL-11","DMI-11","UHOH-11","CNRM-11","ETH-11","CLMCOM-44","CSC-44","SMHI-44","KNMI-44","IPSL-44","DMI-44","UHOH-44","CNRM-44"], "range": ["#c9302c","#ee4a2b","#2f7d10","#6fe32f","#a655f2","#8c4612","#1d4ef5","#58b0f8","#fcd22b","#d83b3b","#f47c50","#3b9b35","#7ce956","#ae70f3","#a3663e","#3c5ef2","#70bdfb"]}}}},
{"data": {"values": [{}]}, "mark": {"type": "text", "text": "SC", "align": "left", "baseline": "alphabetic", "dx": -60.5, "fontSize": 24, "fontWeight": "bold", "color": "#111111"},
 "encoding": {"x": {"datum": "DJF", "type": "nominal"}, "y": {"datum": 168.6, "type": "quantitative"}}}
]},
{"data": {"values": [{}]},
 "layer": [
{"mark": {"type": "rect", "color": "#f9e1e0", "clip": false},
 "encoding": {"x": {"datum": -0.536, "type": "quantitative", "scale": {"domain": [0.3, 5.7], "nice": false, "zero": false}, "axis": null}, "x2": {"datum": 7.166}, "y": {"datum": -46.5, "type": "quantitative"}, "y2": {"datum": -89.6}}},
{"mark": {"type": "rect", "color": "#f9e1e0", "clip": false},
 "encoding": {"x": {"datum": -0.536, "type": "quantitative"}, "x2": {"datum": 7.166}, "y": {"datum": -94.6, "type": "quantitative"}, "y2": {"datum": -163.1}}},
{"mark": {"type": "text", "text": "Wet bias dominates…", "align": "left", "baseline": "alphabetic", "font": "DejaVu Sans", "fontSize": 42, "fontWeight": "bold", "color": "#c23a2a", "clip": false},
 "encoding": {"x": {"datum": -0.369, "type": "quantitative"}, "y": {"datum": -77.8, "type": "quantitative"}}},
{"mark": {"type": "text", "text": "Higher resolution typically associated with", "align": "left", "baseline": "alphabetic", "font": "DejaVu Sans", "fontSize": 42, "fontWeight": "bold", "color": "#c23a2a", "clip": false},
 "encoding": {"x": {"datum": -0.369, "type": "quantitative"}, "y": {"datum": -126.1, "type": "quantitative"}}},
{"mark": {"type": "text", "text": "higher precipitation …", "align": "left", "baseline": "alphabetic", "font": "DejaVu Sans", "fontSize": 42, "fontWeight": "bold", "color": "#c23a2a", "clip": false},
 "encoding": {"x": {"datum": -0.369, "type": "quantitative"}, "y": {"datum": -156.9, "type": "quantitative"}}}
 ]}
]
}
],
"config": {
  "font": "Liberation Sans",
  "view": {"stroke": "#5a5a5a", "strokeWidth": 2},
  "axis": {"domain": false, "labelColor": "#222222", "tickColor": "#3a3a3a", "tickWidth": 1.5, "titleColor": "#333333"},
  "axisX": {"labelFontSize": 20, "tickSize": 12, "labelPadding": 8, "gridDash": [1.5, 8.5], "gridColor": "#777777", "gridWidth": 1.5},
  "axisY": {"labelFontSize": 21, "tickSize": 16, "labelPadding": 7, "grid": true, "gridColor": "#d0d0d0", "gridWidth": 2, "titleFontSize": 28, "titleFontWeight": "bold", "titlePadding": 40, "labelExpr": "'' + datum.value", "labelOverlap": false}
}
}
